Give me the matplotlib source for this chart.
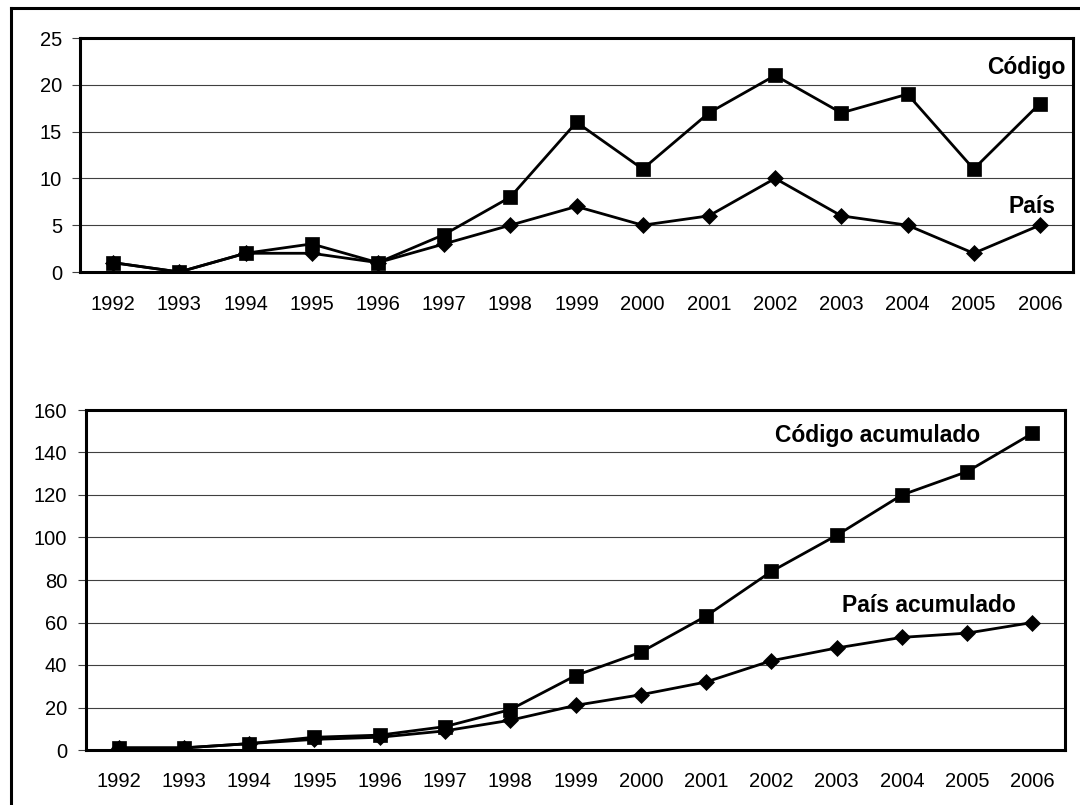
import matplotlib
matplotlib.use("Agg")
import matplotlib.pyplot as plt
from matplotlib.lines import Line2D

plt.rcParams['font.family'] = ['Liberation Sans', 'DejaVu Sans']

years = ["1992", "1993", "1994", "1995", "1996", "1997", "1998", "1999",
         "2000", "2001", "2002", "2003", "2004", "2005", "2006"]
codigo = [1, 0, 2, 3, 1, 4, 8, 16, 11, 17, 21, 17, 19, 11, 18]
pais = [1, 0, 2, 2, 1, 3, 5, 7, 5, 6, 10, 6, 5, 2, 5]
codigo_acum = [1, 1, 3, 6, 7, 11, 19, 35, 46, 63, 84, 101, 120, 131, 149]
pais_acum = [1, 1, 3, 5, 6, 9, 14, 21, 26, 32, 42, 48, 53, 55, 60]

W, H = 1080, 805
fig = plt.figure(figsize=(W / 100, H / 100), dpi=100)

# outer frame (left and top visible)
fig.add_artist(Line2D([11 / W, 11 / W], [0, 1 - 8 / H], color='black', lw=2.2,
                      transform=fig.transFigure, solid_capstyle='projecting'))
fig.add_artist(Line2D([11 / W, 1.0], [1 - 8 / H, 1 - 8 / H], color='black', lw=2.2,
                      transform=fig.transFigure, solid_capstyle='projecting'))


def make_axes(l, t, r, b):
    return fig.add_axes([l / W, 1 - b / H, (r - l) / W, (b - t) / H])


def style(ax, ymax, step, ytick_pad, xtick_pad):
    x = range(len(years))
    ax.set_xlim(-0.5, len(years) - 0.5)
    ax.set_ylim(0, ymax)
    ax.set_yticks(range(0, ymax + 1, step))
    ax.set_xticks(list(x))
    ax.set_xticklabels(years)
    ax.tick_params(axis='y', length=5.5, width=0.8, pad=ytick_pad, labelsize=14.5, color='#404040')
    ax.tick_params(axis='x', length=0, pad=xtick_pad, labelsize=14.5)
    ax.yaxis.grid(True, color='#404040', lw=0.8)
    ax.set_axisbelow(True)
    for s in ax.spines.values():
        s.set_linewidth(2.2)
        s.set_color('black')


ax1 = make_axes(80, 38, 1073, 272)
style(ax1, 25, 5, 7.5, 16.5)
ax1.plot(range(len(years)), pais, color='black', lw=2, marker='D', markersize=8.5,
         markeredgewidth=0.5, zorder=3)
ax1.plot(range(len(years)), codigo, color='black', lw=2, marker='s', markersize=10,
         markeredgewidth=0.5, zorder=4)
ax1.text(14.38, 21.15, 'Código', ha='right', va='baseline', fontsize=16.5, fontweight='bold')
ax1.text(14.23, 6.3, 'País', ha='right', va='baseline', fontsize=16.5, fontweight='bold')

ax2 = make_axes(86, 410, 1065, 750)
style(ax2, 160, 20, 8, 15.5)
ax2.plot(range(len(years)), pais_acum, color='black', lw=2, marker='D', markersize=8.5,
         markeredgewidth=0.5, zorder=3)
ax2.plot(range(len(years)), codigo_acum, color='black', lw=2, marker='s', markersize=10,
         markeredgewidth=0.5, zorder=4)
ax2.text(10.06, 145, 'Código acumulado', ha='left', va='baseline', fontsize=16.5, fontweight='bold')
ax2.text(11.08, 64.9, 'País acumulado', ha='left', va='baseline', fontsize=16.5, fontweight='bold')

fig.savefig('out.png', dpi=100)
